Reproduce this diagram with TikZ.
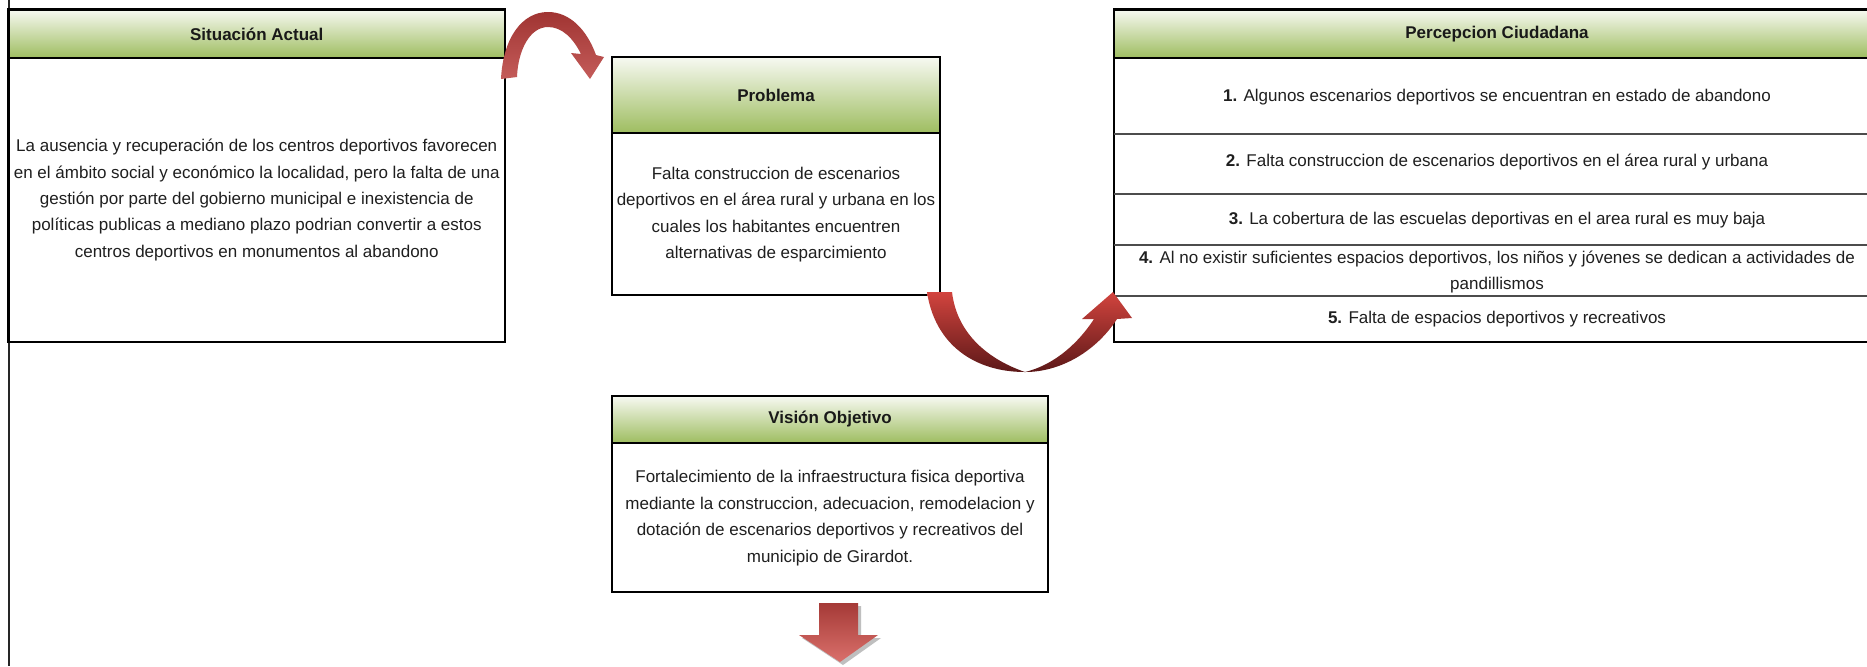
\documentclass[tikz,border=0pt]{standalone}
\usepackage{fontspec}
\setmainfont{Liberation Sans}
\definecolor{hdrtop}{RGB}{247,249,242}
\definecolor{hdrbot}{RGB}{158,189,96}
\definecolor{aonetop}{RGB}{160,52,50}
\definecolor{aonebot}{RGB}{196,92,90}
\definecolor{atwotop}{RGB}{210,68,62}
\definecolor{atwobot}{RGB}{92,24,24}
\definecolor{adowntop}{RGB}{165,58,55}
\definecolor{adownbot}{RGB}{218,112,107}
\begin{document}
\begin{tikzpicture}[x=0.5pt,y=-0.5pt,
  hdr/.style={top color=hdrtop,bottom color=hdrbot,draw=none},
  boxline/.style={draw=black,line width=1.1pt},
  sepline/.style={draw=black!70,line width=0.65pt},
  txt/.style={font=\fontsize{8.5pt}{13.2pt}\selectfont,align=center,inner sep=0pt,text=black!88},
  ttl/.style={font=\bfseries\fontsize{8.5pt}{13.2pt}\selectfont,inner sep=0pt,text=black!90}]
\useasboundingbox[fill=white] (0,0) rectangle (1867,666);

% page edge line
\draw[line width=1pt,black!85] (8.5,0) -- (8.5,666);

% ---------------- Situacion Actual
\shade[hdr] (8.5,9.5) rectangle (505,58);
\draw[boxline] (8.5,9.5) rectangle (505,342);
\draw[line width=0.8pt] (8.5,58) -- (505,58);
\node[ttl] (sa) at (256.75,34) {Situación Actual};
\node[txt] (satxt) at (256.75,200) {La ausencia y recuperación de los centros deportivos favorecen\\
en el ámbito social y económico la localidad, pero la falta de una\\
gestión por parte del gobierno municipal e inexistencia de\\
políticas publicas a mediano plazo podrian convertir a estos\\
centros deportivos en monumentos al abandono};

% ---------------- Problema
\shade[hdr] (612,57) rectangle (940,133);
\draw[boxline] (612,57) rectangle (940,295);
\draw[line width=0.8pt] (612,133) -- (940,133);
\node[ttl] (pr) at (776,95) {Problema};
\node[txt] (prtxt) at (776,214.5) {Falta construccion de escenarios\\
deportivos en el área rural y urbana en los\\
cuales los habitantes encuentren\\
alternativas de esparcimiento};

% ---------------- Percepcion Ciudadana
\shade[hdr] (1114,9.5) rectangle (1867,58);
\draw[boxline] (1867,9.5) -- (1114,9.5) -- (1114,342) -- (1867,342);
\draw[line width=0.8pt] (1114,58) -- (1867,58);
\draw[sepline] (1114,134) -- (1867,134);
\draw[sepline] (1114,194) -- (1867,194);
\draw[sepline] (1114,245) -- (1867,245);
\draw[sepline] (1114,296) -- (1867,296);
\node[ttl] (pc) at (1497,34) {Percepcion Ciudadana};
\node[txt] (pc1) at (1497,97) {\textbf{1.} Algunos escenarios deportivos se encuentran en estado de abandono};
\node[txt] (pc2) at (1497,162) {\textbf{2.} Falta construccion de escenarios deportivos en el área rural y urbana};
\node[txt] (pc3) at (1497,220) {\textbf{3.} La cobertura de las escuelas deportivas en el area rural es muy baja};
\node[txt] (pc4) at (1497,272) {\textbf{4.} Al no existir suficientes espacios deportivos, los niños y jóvenes se dedican a actividades de\\ pandillismos};
\node[txt] (pc5) at (1497,319) {\textbf{5.} Falta de espacios deportivos y recreativos};

% ---------------- Vision Objetivo
\shade[hdr] (612,396) rectangle (1048,443);
\draw[boxline] (612,396) rectangle (1048,592);
\draw[line width=0.8pt] (612,443) -- (1048,443);
\node[ttl] (vo) at (830,419.5) {Visión Objetivo};
\node[txt] (votxt) at (830,518) {Fortalecimiento de la infraestructura fisica deportiva\\
mediante la construccion, adecuacion, remodelacion y\\
dotación de escenarios deportivos y recreativos del\\
municipio de Girardot.};

% ---------------- curved arrow 1 (Situacion -> Problema)
\shade[top color=aonetop,bottom color=aonebot]
  (501,79) .. controls (503,38) and (522,12) .. (548,12)
  .. controls (570,12) and (587,30) .. (596,55)
  -- (604,57) -- (590,79) -- (571,53) -- (581,54)
  .. controls (573,38) and (562,27) .. (548,27)
  .. controls (530,27) and (518,50) .. (517,77)
  -- cycle;

% ---------------- curved arrow 2 (Problema -> Percepcion)
\shade[top color=atwotop,bottom color=atwobot]
  (927,292) .. controls (935,345) and (975,372) .. (1025,372)
  .. controls (1062,372) and (1097,350) .. (1117,319)
  -- (1132,318) -- (1113,292) -- (1082,319) -- (1094,319)
  .. controls (1075,348) and (1050,366) .. (1025,372)
  .. controls (990,360) and (957,335) .. (952,292)
  -- cycle;

% ---------------- down arrow
\fill[black!25] (822,606) -- (861,606) -- (861,638) -- (881,638) -- (843,665) -- (802,638) -- (822,638) -- cycle;
\shade[top color=adowntop,bottom color=adownbot]
  (819,603) -- (858,603) -- (858,635) -- (878,635) -- (840,662) -- (799,635) -- (819,635) -- cycle;
\end{tikzpicture}
\end{document}
